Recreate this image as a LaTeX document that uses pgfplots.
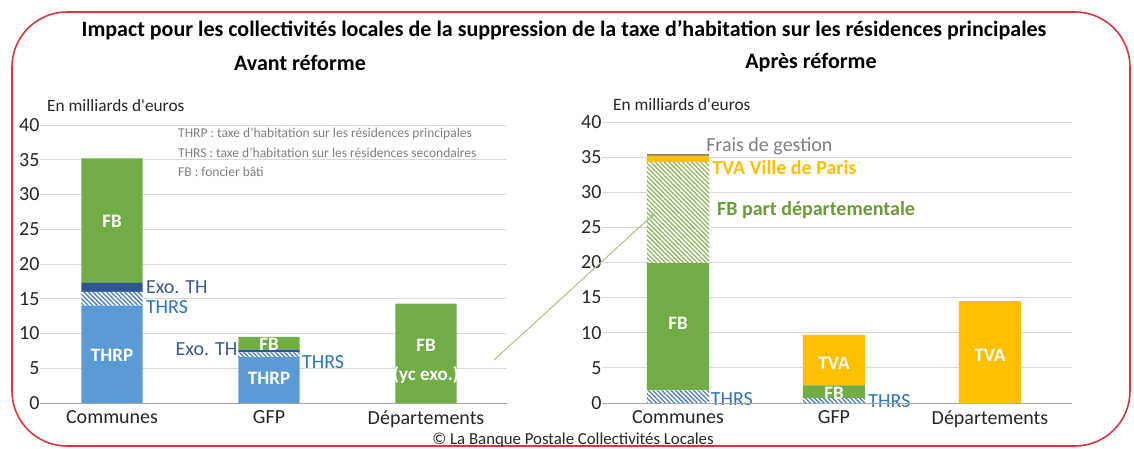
\documentclass[border=0pt]{standalone}
\usepackage{pgfplots}
\pgfplotsset{compat=1.18}
\usepackage{fontspec}
\setmainfont{Carlito}
\usetikzlibrary{patterns.meta,arrows.meta}
\definecolor{thrp}{HTML}{5B9BD5}
\definecolor{fbg}{HTML}{70AD47}
\definecolor{exo}{HTML}{2F5597}
\definecolor{thrs}{HTML}{4A7EC0}
\definecolor{tva}{HTML}{FFC000}
\definecolor{frais}{HTML}{7F7F7F}
\definecolor{gridc}{HTML}{D9D9D9}
\definecolor{lblue}{HTML}{2E75B6}
\definecolor{exolbl}{HTML}{3A5A8C}
\definecolor{fbdep}{HTML}{8DB862}
\definecolor{fbdeplbl}{HTML}{6A9A3A}
\definecolor{bord}{HTML}{D7373D}
\definecolor{arrowc}{HTML}{A9C47F}
\definecolor{txt}{HTML}{262626}
\definecolor{notec}{HTML}{7F7F7F}

\pgfplotsset{
  chartbase/.style={
    scale only axis, anchor=south west,
    ybar stacked, bar shift=0pt,
    ymin=0, ymax=40, ytick={0,5,...,40},
    ymajorgrids, grid style={gridc, line width=1pt},
    axis line style={draw=none},
    major tick length=0pt,
    xtick={0,1,2}, xticklabels={Communes,GFP,Départements},
    ticklabel style={font=\fontsize{20}{20}\selectfont, text=txt},
    /pgf/number format/assume math mode=true,
    yticklabel style={xshift=3pt},
    xticklabel style={yshift=-4pt},
    clip=false,
  },
  hatch/.style={fill=white, draw=none, postaction={pattern={Lines[angle=-45,distance=3.2pt,line width=1.3pt]}, pattern color=#1}},
}
\tikzset{inbar/.style={text=white, font=\fontsize{19}{19}\selectfont\bfseries},
  outl/.style={font=\fontsize{20}{20}\selectfont, inner sep=0pt}}

\begin{document}
\begin{tikzpicture}
\path[use as bounding box] (0,0) rectangle (1134pt,448pt);
\draw[bord, line width=1.6pt, rounded corners=55pt] (12pt,2pt) rectangle (1130pt,436pt);

\node[font=\fontsize{22}{22}\selectfont\bfseries, text=black] at (564pt,418pt) {Impact pour les collectivités locales de la suppression de la taxe d’habitation sur les résidences principales};
\node[font=\fontsize{22}{22}\selectfont\bfseries, text=black] at (300pt,385pt) {Avant réforme};
\node[font=\fontsize{22}{22}\selectfont\bfseries, text=black] at (811pt,385pt) {Après réforme};
\node[font=\fontsize{17.3}{17.3}\selectfont, text=txt, anchor=west, inner sep=0pt] at (47pt,342pt) {En milliards d\textquotesingle euros};
\node[font=\fontsize{17.3}{17.3}\selectfont, text=txt, anchor=west, inner sep=0pt] at (613pt,343pt) {En milliards d\textquotesingle euros};
\node[font=\fontsize{13.5}{13.5}\selectfont, text=notec, anchor=west, inner sep=0pt] at (178pt,314pt) {THRP : taxe d’habitation sur les résidences principales};
\node[font=\fontsize{13.5}{13.5}\selectfont, text=notec, anchor=west, inner sep=0pt] at (178pt,295pt) {THRS : taxe d’habitation sur les résidences secondaires};
\node[font=\fontsize{13.5}{13.5}\selectfont, text=notec, anchor=west, inner sep=0pt] at (178pt,276pt) {FB : foncier bâti};
\node[font=\fontsize{16.8}{16.8}\selectfont, text=txt] at (573pt,8pt) {© La Banque Postale Collectivités Locales};

% Avant réforme
\begin{axis}[chartbase, at={(40pt,45pt)}, width=467pt, height=278pt,
  xmin=-0.459, xmax=2.516, bar width=0.39]
\addplot[fill=thrp, draw=none] coordinates {(0,14.0) (1,6.6) (2,0)};
\addplot[hatch=thrs] coordinates {(0,2.0) (1,0.7) (2,0)};
\addplot[fill=exo, draw=none] coordinates {(0,1.3) (1,0.3) (2,0)};
\addplot[fill=fbg, draw=none] coordinates {(0,17.9) (1,1.9) (2,14.3)};
\draw[gray!70, line width=1pt] (rel axis cs:0,0) -- (rel axis cs:1,0);
\coordinate (a1) at (axis cs:0,26.2);
\coordinate (a2) at (axis cs:0,6.9);
\coordinate (a3) at (axis cs:1,8.4);
\coordinate (a4) at (axis cs:1,3.5);
\coordinate (a5) at (axis cs:2,8.3);
\coordinate (a6) at (axis cs:2,4.0);
\node[outl, text=exolbl, anchor=west] at (axis cs:0.215,16.7) {Exo. TH};
\node[outl, text=lblue, anchor=west] at (axis cs:0.215,13.8) {THRS};
\node[outl, text=exolbl, anchor=east] at (axis cs:0.80,7.8) {Exo. TH};
\node[outl, text=lblue, anchor=west] at (axis cs:1.21,5.9) {THRS};
\end{axis}

% Après réforme
\begin{axis}[chartbase, at={(602pt,45pt)}, width=470pt, height=281pt,
  xmin=-0.487, xmax=2.526, bar width=0.40]
\addplot[hatch=thrs] coordinates {(0,1.8) (1,0.7) (2,0)};
\addplot[fill=fbg, draw=none] coordinates {(0,18.1) (1,1.8) (2,0)};
\addplot[hatch=fbdep] coordinates {(0,14.4) (1,0) (2,0)};
\addplot[fill=tva, draw=none] coordinates {(0,0.9) (1,7.2) (2,14.5)};
\addplot[fill=frais, draw=none] coordinates {(0,0.3) (1,0) (2,0)};
\draw[gray!70, line width=1pt] (rel axis cs:0,0) -- (rel axis cs:1,0);
\coordinate (b1) at (axis cs:0,11.4);
\coordinate (b2) at (axis cs:1,5.6);
\coordinate (b3) at (axis cs:1,1.4);
\coordinate (b4) at (axis cs:2,6.8);
\node[outl, text=frais, anchor=west] at (axis cs:0.18,36.6) {Frais de gestion};
\node[outl, text=tva, anchor=west, font=\fontsize{20}{20}\selectfont\bfseries] at (axis cs:0.22,33.5) {TVA Ville de Paris};
\node[outl, text=fbdeplbl, anchor=west, font=\fontsize{20}{20}\selectfont\bfseries] at (axis cs:0.25,27.5) {FB part départementale};
\node[outl, text=lblue, anchor=west] at (axis cs:0.21,0.6) {THRS};
\node[outl, text=lblue, anchor=west] at (axis cs:1.22,0.3) {THRS};
\end{axis}

\node[inbar] at (a1) {FB};
\node[inbar] at (a2) {THRP};
\node[inbar] at (a3) {FB};
\node[inbar] at (a4) {THRP};
\node[inbar] at (a5) {FB};
\node[inbar] at (a6) {(yc exo.)};
\node[inbar] at (b1) {FB};
\node[inbar] at (b2) {TVA};
\node[inbar] at (b3) {FB};
\node[inbar] at (b4) {TVA};

\draw[arrowc, line width=1pt, -{Stealth[length=7pt,width=5pt]}] (494pt,88pt) -- (655pt,235pt);
\end{tikzpicture}
\end{document}
